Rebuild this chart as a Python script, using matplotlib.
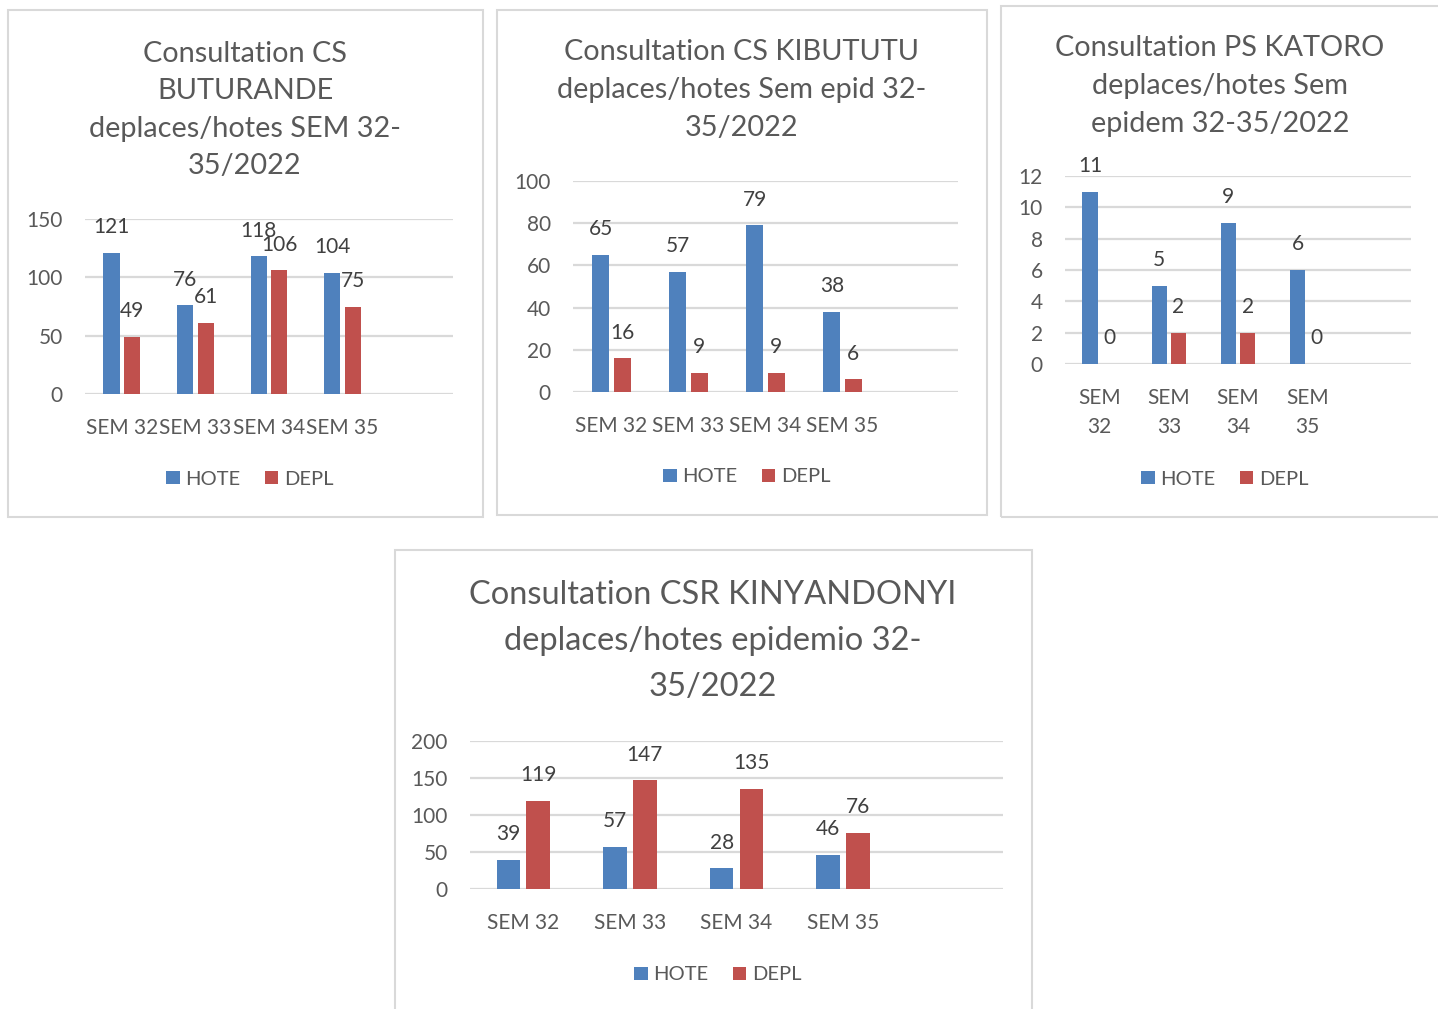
import matplotlib.pyplot as plt
from matplotlib.patches import Rectangle

plt.rcParams['font.family'] = ['Lato', 'DejaVu Sans']

W, H = 1438, 1009
BLUE = '#4F81BD'
RED = '#C0504D'
GRID = '#D9D9D9'
TXT = '#595959'
LBL = '#404040'

weeks = ['SEM 32', 'SEM 33', 'SEM 34', 'SEM 35']
weeks_wrapped = ['SEM\n32', 'SEM\n33', 'SEM\n34', 'SEM\n35']

buturande_hote = [121, 76, 118, 104]
buturande_depl = [49, 61, 106, 75]

kibututu_hote = [65, 57, 79, 38]
kibututu_depl = [16, 9, 9, 6]

katoro_hote = [11, 5, 9, 6]
katoro_depl = [0, 2, 2, 0]

kinyandonyi_hote = [39, 57, 28, 46]
kinyandonyi_depl = [119, 147, 135, 76]


def fr(x0, y0, x1, y1):
    # pixel box (top-left origin) -> figure fraction rect
    return [x0 / W, 1 - y1 / H, (x1 - x0) / W, (y1 - y0) / H]


fig = plt.figure(figsize=(W / 100, H / 100), dpi=100)

panels = [
    dict(box=(8, 10, 483, 517), ax=(85, 219, 453, 394), ymax=150, step=50,
         hote=buturande_hote, depl=buturande_depl, labels=weeks,
         title='Consultation CS\nBUTURANDE\ndeplaces/hotes SEM 32-\n35/2022',
         tx=245, ty=110, tsize=20.8, ls=1.55, leg=(250, 479)),
    dict(box=(497, 10, 987, 515), ax=(573, 181, 958, 392), ymax=100, step=20,
         hote=kibututu_hote, depl=kibututu_depl, labels=weeks,
         title='Consultation CS KIBUTUTU\ndeplaces/hotes Sem epid 32-\n35/2022',
         tx=742, ty=90, tsize=20.8, ls=1.55, leg=(747, 477)),
    dict(box=(1001, 6, 1440, 517), ax=(1065, 176, 1411, 364), ymax=12, step=2,
         hote=katoro_hote, depl=katoro_depl, labels=weeks_wrapped,
         title='Consultation PS KATORO\ndeplaces/hotes Sem\nepidem 32-35/2022',
         tx=1220, ty=86, tsize=20.8, ls=1.55, leg=(1225, 479)),
    dict(box=(395, 550, 1032, 1015), ax=(470, 741, 1003, 889), ymax=200, step=50,
         hote=kinyandonyi_hote, depl=kinyandonyi_depl, labels=weeks,
         title='Consultation CSR KINYANDONYI\ndeplaces/hotes epidemio 32-\n35/2022',
         tx=713, ty=641, tsize=23.5, ls=1.65, leg=(718, 975)),
]

for p in panels:
    x0, y0, x1, y1 = p['box']
    fig.patches.append(Rectangle((x0 / W, 1 - y1 / H), (x1 - x0) / W, (y1 - y0) / H,
                                 transform=fig.transFigure, fill=False,
                                 edgecolor=GRID, linewidth=1.5))

    fig.text(p['tx'] / W, 1 - p['ty'] / H, p['title'], ha='center', va='center',
             fontsize=p['tsize'], color=TXT, linespacing=p['ls'])

    ax = fig.add_axes(fr(*p['ax']))
    n = len(p['labels'])
    xs = list(range(n))
    off, bw = 0.14, 0.22
    b1 = ax.bar([x - off for x in xs], p['hote'], bw, color=BLUE, label='HOTE', zorder=3)
    b2 = ax.bar([x + off for x in xs], p['depl'], bw, color=RED, label='DEPL', zorder=3)
    for bars, vals in ((b1, p['hote']), (b2, p['depl'])):
        for b, v in zip(bars, vals):
            ax.annotate(str(v), (b.get_x() + b.get_width() / 2, v),
                        xytext=(0, 18.5), textcoords='offset points',
                        ha='center', va='center', fontsize=15, color=LBL)

    ax.set_xlim(-0.5, n + 0.5)
    ax.set_ylim(0, p['ymax'])
    ax.set_yticks(range(0, p['ymax'] + 1, p['step']))
    ax.set_xticks(xs)
    ax.set_xticklabels(p['labels'], linespacing=1.6)
    ax.tick_params(axis='y', length=0, pad=16, labelsize=15, labelcolor=TXT)
    ax.tick_params(axis='x', length=0, pad=17, labelsize=15, labelcolor=TXT)
    ax.grid(axis='y', color=GRID, linewidth=1.6, zorder=0)
    for s in ax.spines.values():
        s.set_visible(False)
    ax.set_facecolor('none')

    lx, ly = p['leg']
    fig.legend(handles=[b1, b2], loc='center', bbox_to_anchor=(lx / W, 1 - ly / H),
               ncol=2, frameon=False, fontsize=14.5, labelcolor=TXT,
               handlelength=0.65, handleheight=0.65, handletextpad=0.3,
               columnspacing=1.2)

fig.savefig('out.png', dpi=100)
